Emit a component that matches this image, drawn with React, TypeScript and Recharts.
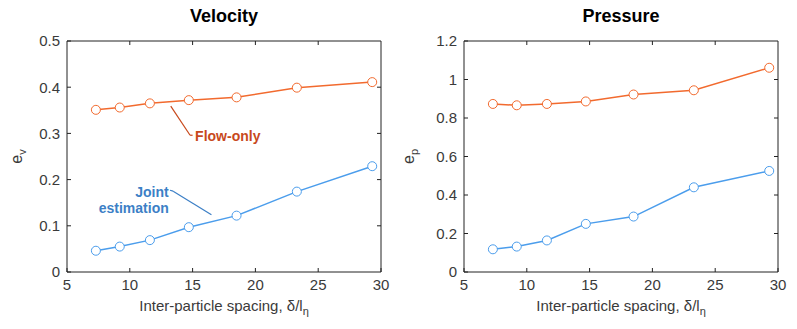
import React from "react";
import {
  LineChart,
  Line,
  XAxis,
  YAxis,
  ReferenceLine,
  ReferenceDot,
} from "recharts";

// inter-particle spacing (x) shared by both panels
const spacing = [7.3, 9.2, 11.6, 14.7, 18.5, 23.3, 29.3];

const velocityFlowOnly = [0.351, 0.356, 0.365, 0.372, 0.378, 0.399, 0.411];
const velocityJoint = [0.046, 0.055, 0.069, 0.097, 0.122, 0.174, 0.229];

const pressureFlowOnly = [0.873, 0.866, 0.873, 0.886, 0.922, 0.944, 1.061];
const pressureJoint = [0.118, 0.132, 0.164, 0.25, 0.288, 0.44, 0.525];

const xTicks = [5, 10, 15, 20, 25, 30];
const velocityTicks = [0, 0.1, 0.2, 0.3, 0.4, 0.5];
const pressureTicks = [0, 0.2, 0.4, 0.6, 0.8, 1, 1.2];

const ORANGE = "#f26a2e";
const BLUE = "#4b9dec";
const ORANGE_TEXT = "#c8491c";
const BLUE_TEXT = "#3c7fc6";
const FRAME = "#222";
const TEXT = "#3a3a3a";
const FONT = "'Liberation Sans', Arial, sans-serif";

const PLOT_W = 314;
const PLOT_H = 231;
const TICK_PX = 4;

const toRows = (a: number[], b: number[]) =>
  spacing.map((x, i) => ({ x, flow: a[i], joint: b[i] }));

function YLabel({ viewBox, sub, offsetX }: any) {
  const cx = viewBox.x + offsetX;
  const cy = viewBox.y + viewBox.height / 2;
  return (
    <text
      x={cx}
      y={cy}
      transform={`rotate(-90, ${cx}, ${cy})`}
      textAnchor="middle"
      fontSize={16}
      fill={TEXT}
      fontFamily={FONT}
    >
      e
      <tspan fontSize={11} dy={4}>
        {sub}
      </tspan>
    </text>
  );
}

function XLabel({ viewBox }: any) {
  return (
    <text
      x={viewBox.x + viewBox.width / 2}
      y={viewBox.y + 39}
      textAnchor="middle"
      fontSize={15}
      fill={TEXT}
      fontFamily={FONT}
    >
      Inter-particle spacing, δ/l
      <tspan fontSize={11} dy={4}>
        η
      </tspan>
    </text>
  );
}

function AnnotationText({ viewBox, lines, color, anchor }: any) {
  const x = viewBox.x + viewBox.width / 2;
  const y = viewBox.y + viewBox.height / 2;
  return (
    <text
      x={x}
      y={y}
      textAnchor={anchor}
      fontSize={14}
      fontWeight="bold"
      fill={color}
      fontFamily={FONT}
    >
      {lines.map((t: string, i: number) => (
        <tspan key={t} x={x} dy={i === 0 ? 5 : 16}>
          {t}
        </tspan>
      ))}
    </text>
  );
}

interface PanelProps {
  title: string;
  left: number;
  axisWidth: number;
  labelX: number;
  sub: string;
  flow: number[];
  joint: number[];
  yTicks: number[];
  annotate?: boolean;
}

function Panel({
  title,
  left,
  axisWidth,
  labelX,
  sub,
  flow,
  joint,
  yTicks,
  annotate,
}: PanelProps) {
  const data = toRows(flow, joint);
  const yMax = yTicks[yTicks.length - 1];
  const chartW = axisWidth + PLOT_W + 19;
  const dx = (25 * TICK_PX) / PLOT_W; // tick length in x units
  const dy = (yMax * TICK_PX) / PLOT_H; // tick length in y units
  return (
    <div style={{ position: "absolute", left, top: 0, width: chartW, height: 329 }}>
      <div
        style={{
          position: "absolute",
          left: axisWidth,
          width: PLOT_W,
          top: 6,
          textAlign: "center",
          fontFamily: FONT,
          fontWeight: "bold",
          fontSize: 18,
          color: "#000",
        }}
      >
        {title}
      </div>
      <LineChart
        width={chartW}
        height={329}
        data={data}
        margin={{ top: 41, right: 19, bottom: 27, left: 0 }}
      >
        <XAxis
          dataKey="x"
          type="number"
          domain={[5, 30]}
          ticks={xTicks}
          allowDataOverflow
          height={30}
          stroke={FRAME}
          tickSize={-TICK_PX}
          tickMargin={11}
          tick={{ fill: TEXT, fontSize: 15, fontFamily: FONT }}
          label={<XLabel />}
        />
        <YAxis
          type="number"
          domain={[0, yMax]}
          ticks={yTicks}
          allowDataOverflow
          width={axisWidth}
          stroke={FRAME}
          tickSize={-TICK_PX}
          tickMargin={11}
          tick={{ fill: TEXT, fontSize: 15, fontFamily: FONT }}
          label={<YLabel sub={sub} offsetX={labelX} />}
        />
        {/* top and right sides of the box, with inward ticks */}
        <ReferenceLine
          segment={[
            { x: 5, y: yMax },
            { x: 30, y: yMax },
          ]}
          stroke={FRAME}
          ifOverflow="visible"
        />
        <ReferenceLine
          segment={[
            { x: 30, y: 0 },
            { x: 30, y: yMax },
          ]}
          stroke={FRAME}
          ifOverflow="visible"
        />
        {xTicks.slice(1, -1).map((t) => (
          <ReferenceLine
            key={`tx${t}`}
            segment={[
              { x: t, y: yMax },
              { x: t, y: yMax - dy },
            ]}
            stroke={FRAME}
            ifOverflow="visible"
          />
        ))}
        {yTicks.slice(1, -1).map((t) => (
          <ReferenceLine
            key={`ty${t}`}
            segment={[
              { x: 30 - dx, y: t },
              { x: 30, y: t },
            ]}
            stroke={FRAME}
            ifOverflow="visible"
          />
        ))}
        <Line
          dataKey="flow"
          stroke={ORANGE}
          strokeWidth={1.5}
          dot={{ r: 4.5, fill: "#fff", stroke: ORANGE, strokeWidth: 1 }}
          isAnimationActive={false}
        />
        <Line
          dataKey="joint"
          stroke={BLUE}
          strokeWidth={1.5}
          dot={{ r: 4.5, fill: "#fff", stroke: BLUE, strokeWidth: 1 }}
          isAnimationActive={false}
        />
        {annotate && (
          <ReferenceLine
            segment={[
              { x: 13.26, y: 0.359 },
              { x: 14.8, y: 0.296 },
            ]}
            stroke={ORANGE_TEXT}
            strokeWidth={1.2}
            ifOverflow="visible"
          />
        )}
        {annotate && (
          <ReferenceLine
            segment={[
              { x: 14.8, y: 0.296 },
              { x: 15.0, y: 0.296 },
            ]}
            stroke={ORANGE_TEXT}
            strokeWidth={1.2}
            ifOverflow="visible"
          />
        )}
        {annotate && (
          <ReferenceDot
            x={15.2}
            y={0.294}
            r={0}
            ifOverflow="visible"
            label={<AnnotationText lines={["Flow-only"]} color={ORANGE_TEXT} anchor="start" />}
          />
        )}
        {annotate && (
          <ReferenceLine
            segment={[
              { x: 13.2, y: 0.177 },
              { x: 13.45, y: 0.175 },
            ]}
            stroke={BLUE_TEXT}
            strokeWidth={1.2}
            ifOverflow="visible"
          />
        )}
        {annotate && (
          <ReferenceLine
            segment={[
              { x: 13.45, y: 0.175 },
              { x: 16.5, y: 0.124 },
            ]}
            stroke={BLUE_TEXT}
            strokeWidth={1.2}
            ifOverflow="visible"
          />
        )}
        {annotate && (
          <ReferenceDot
            x={13.1}
            y={0.173}
            r={0}
            ifOverflow="visible"
            label={
              <AnnotationText
                lines={["Joint", "estimation"]}
                color={BLUE_TEXT}
                anchor="end"
              />
            }
          />
        )}
      </LineChart>
    </div>
  );
}

export default function App() {
  return (
    <div
      style={{
        position: "absolute",
        left: 0,
        top: 0,
        width: 797,
        height: 329,
        background: "#fff",
      }}
    >
      <Panel
        title="Velocity"
        left={0}
        axisWidth={67}
        labelX={22}
        sub="v"
        flow={velocityFlowOnly}
        joint={velocityJoint}
        yTicks={velocityTicks}
        annotate
      />
      <Panel
        title="Pressure"
        left={400}
        axisWidth={64}
        labelX={14}
        sub="p"
        flow={pressureFlowOnly}
        joint={pressureJoint}
        yTicks={pressureTicks}
      />
    </div>
  );
}
